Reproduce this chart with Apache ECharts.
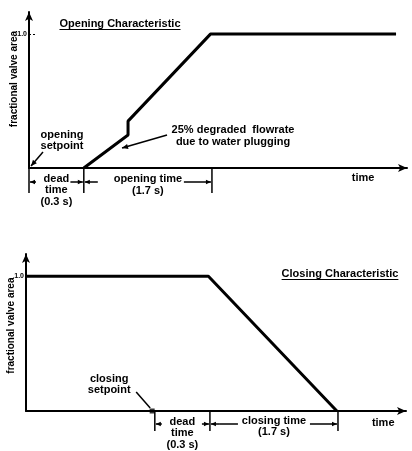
<!DOCTYPE html>
<html><head><meta charset="utf-8">
<script src="https://cdn.jsdelivr.net/npm/echarts@6/dist/echarts.min.js"></script>
<style>html,body{margin:0;padding:0;background:#fff}#c{width:412px;height:451px}</style>
</head><body><div id="c"></div>
<script>
// ---- data (schematic time units, fractional valve area) ----
const openTime = [14.5, 26.2, 26.2, 48, 97.1];
const openArea = [0, 0.246, 0.35, 1.0, 1.0];
const closeTime = [0, 48, 81.8];
const closeArea = [1.0, 1.0, 0];
const yTickValues = [1.0];
const yTickLabels = ['1.0'];
const openPhases = [0, 14.5, 48.4];     // setpoint, end of dead time, end of opening
const closePhases = [33.9, 48.4, 82.1]; // end of setpoint, end of dead time, end of closing
const closeSetpoint = [33.2];
const titles = ['Opening Characteristic', 'Closing Characteristic'];
const yName = 'fractional valve area';
const xName = 'time';
const deadLabel = ['dead', 'time', '(0.3 s)'];
const openLabel = ['opening time', '(1.7 s)'];
const closeLabel = ['closing time', '(1.7 s)'];
const openSetLabel = ['opening', 'setpoint'];
const closeSetLabel = ['closing', 'setpoint'];
const degradeLabel = ['25% degraded  flowrate', 'due to water plugging'];

const FONT = '"Liberation Sans", Arial, sans-serif';
const chart = echarts.init(document.getElementById('c'), null, {renderer: 'canvas'});

function axisLine() {
  return {show: true, lineStyle: {color: '#000', width: 2}, symbol: ['none', 'arrow'], symbolSize: [6, 9]};
}
function xAx(gi) {
  return {gridIndex: gi, type: 'value', min: 0, max: 100, axisLine: axisLine(),
    axisTick: {show: false}, axisLabel: {show: false}, splitLine: {show: false}};
}
function yAx(gi) {
  return {gridIndex: gi, type: 'value', min: 0, max: 1.165, axisLine: axisLine(),
    axisTick: {show: true, inside: true, length: 7, customValues: yTickValues,
      lineStyle: {color: '#000', width: 1, type: [2, 2]}},
    axisLabel: {show: true, customValues: yTickValues, margin: 2, fontSize: 7, fontWeight: 'bold',
      fontFamily: FONT, color: '#000',
      formatter: v => yTickLabels[yTickValues.indexOf(v)] ?? ''},
    splitLine: {show: false}};
}

const option = {
  animation: false,
  backgroundColor: '#fff',
  grid: [
    {left: 29, right: 5, top: 12, bottom: 283},
    {left: 26, right: 6, top: 254, bottom: 40}
  ],
  xAxis: [xAx(0), xAx(1)],
  yAxis: [yAx(0), yAx(1)],
  series: [
    {type: 'line', xAxisIndex: 0, yAxisIndex: 0, symbol: 'none', clip: false,
      lineStyle: {color: '#000', width: 3}, data: openTime.map((t, i) => [t, openArea[i]])},
    {type: 'line', xAxisIndex: 1, yAxisIndex: 1, symbol: 'none', clip: false,
      lineStyle: {color: '#000', width: 3}, data: closeTime.map((t, i) => [t, closeArea[i]])},
    {type: 'scatter', xAxisIndex: 1, yAxisIndex: 1, symbol: 'rect', symbolSize: 5, clip: false,
      itemStyle: {color: '#000'}, data: closeSetpoint.map(t => [t, 0])}
  ]
};
chart.setOption(option);

// ---- annotations anchored to the axes ----
const P = (g, x, y) => chart.convertToPixel({gridIndex: g}, [x, y]);
const els = [];
const measure = (() => { const c = document.createElement('canvas').getContext('2d');
  return (s, f) => { c.font = f; return c.measureText(s).width; }; })();
function text(x, y, s, size, extra) {
  els.push(Object.assign({type: 'text', x: x, y: y, silent: true,
    style: {text: s, fill: '#000', font: 'bold ' + size + 'px ' + FONT, align: 'center', verticalAlign: 'middle'}}, extra || {}));
}
function line(x1, y1, x2, y2, w) {
  els.push({type: 'line', silent: true, shape: {x1, y1, x2, y2}, style: {stroke: '#000', lineWidth: w || 1.5}});
}
function arrow(x1, y1, x2, y2, w, L, W) {
  L = L || 5; W = W || 2.3;
  line(x1, y1, x2, y2, w);
  const dx = x2 - x1, dy = y2 - y1, d = Math.hypot(dx, dy), ux = dx / d, uy = dy / d;
  const bx = x2 - ux * L, by = y2 - uy * L;
  els.push({type: 'polygon', silent: true, shape: {points: [[x2, y2], [bx - uy * W, by + ux * W], [bx + uy * W, by - ux * W]]},
    style: {fill: '#000'}});
}
function title(cx, cy, s) {
  const f = 'bold 11px ' + FONT;
  text(cx, cy, s, 11);
  const w = measure(s, f);
  line(cx - w / 2, cy + 5.5, cx + w / 2, cy + 5.5, 1.2);
}

// top chart
{
  const base = P(0, 0, 0)[1];
  const top1 = P(0, 0, 1)[1];
  const xs = openPhases.map(t => P(0, t, 0)[0]);
  xs.forEach(x => line(x, base, x, base + 25, 1.5));
  const dimY = base + 14;
  const dc = (xs[0] + xs[1]) / 2, oc = (xs[1] + xs[2]) / 2;
  text(dc, base + 11, deadLabel[0], 11);
  text(dc, base + 22, deadLabel[1], 11);
  text(dc, base + 34, deadLabel[2], 11);
  text(oc, base + 11, openLabel[0], 11);
  text(oc, base + 23, openLabel[1], 11);
  arrow(xs[0] + 7, dimY, xs[0] + 1, dimY);
  arrow(dc + 14, dimY, xs[1] - 1, dimY);
  arrow(xs[1] + 14, dimY, xs[1] + 1, dimY);
  arrow(oc + 36, dimY, xs[2] - 1, dimY);
  text(P(0, 88.4, 0)[0], base + 10, xName, 11);
  // opening setpoint
  text(xs[0] + 33, base - 33, openSetLabel[0], 11);
  text(xs[0] + 33, base - 22, openSetLabel[1], 11);
  arrow(xs[0] + 14, base - 16, xs[0] + 2, base - 2, 1.5, 6, 2.6);
  // degraded flowrate note
  const jx = P(0, openTime[1], 0)[0];
  text(jx + 105, top1 + 96, degradeLabel[0], 11);
  text(jx + 105, top1 + 108, degradeLabel[1], 11);
  arrow(jx + 39, top1 + 101, jx - 6, top1 + 114, 1.5, 6, 2.6);
  title(120, 24, titles[0]);
  text(14, (top1 + base) / 2 - 22, yName, 10, {rotation: Math.PI / 2});
}
// bottom chart
{
  const base = P(1, 0, 0)[1];
  const top1 = P(1, 0, 1)[1];
  const xs = closePhases.map(t => P(1, t, 0)[0]);
  xs.forEach(x => line(x, base, x, base + 20, 1.5));
  const dimY = base + 13;
  const dc = (xs[0] + xs[1]) / 2, cc = (xs[1] + xs[2]) / 2;
  text(dc, base + 11, deadLabel[0], 11);
  text(dc, base + 22, deadLabel[1], 11);
  text(dc, base + 34, deadLabel[2], 11);
  text(cc, base + 10, closeLabel[0], 11);
  text(cc, base + 21, closeLabel[1], 11);
  arrow(xs[0] + 7, dimY, xs[0] + 1, dimY);
  arrow(xs[1] - 8, dimY, xs[1] - 1, dimY);
  arrow(xs[1] + 10, dimY, xs[1] + 1, dimY);
  arrow(xs[1] + 10, dimY, cc - 36, dimY, 1.5, 0.01, 0.01);
  arrow(cc + 36, dimY, xs[2] - 1, dimY);
  text(P(1, 94, 0)[0], base + 12, xName, 11);
  const sx = P(1, closeSetpoint[0], 0)[0];
  text(sx - 43, base - 32, closeSetLabel[0], 11);
  text(sx - 43, base - 21, closeSetLabel[1], 11);
  line(sx - 16, base - 19, sx - 2, base - 3, 1.5);
  title(340, 274, titles[1]);
  text(11, (top1 + base) / 2 - 18, yName, 10, {rotation: Math.PI / 2});
}
chart.setOption({graphic: {elements: els}});
</script>
</body></html>
